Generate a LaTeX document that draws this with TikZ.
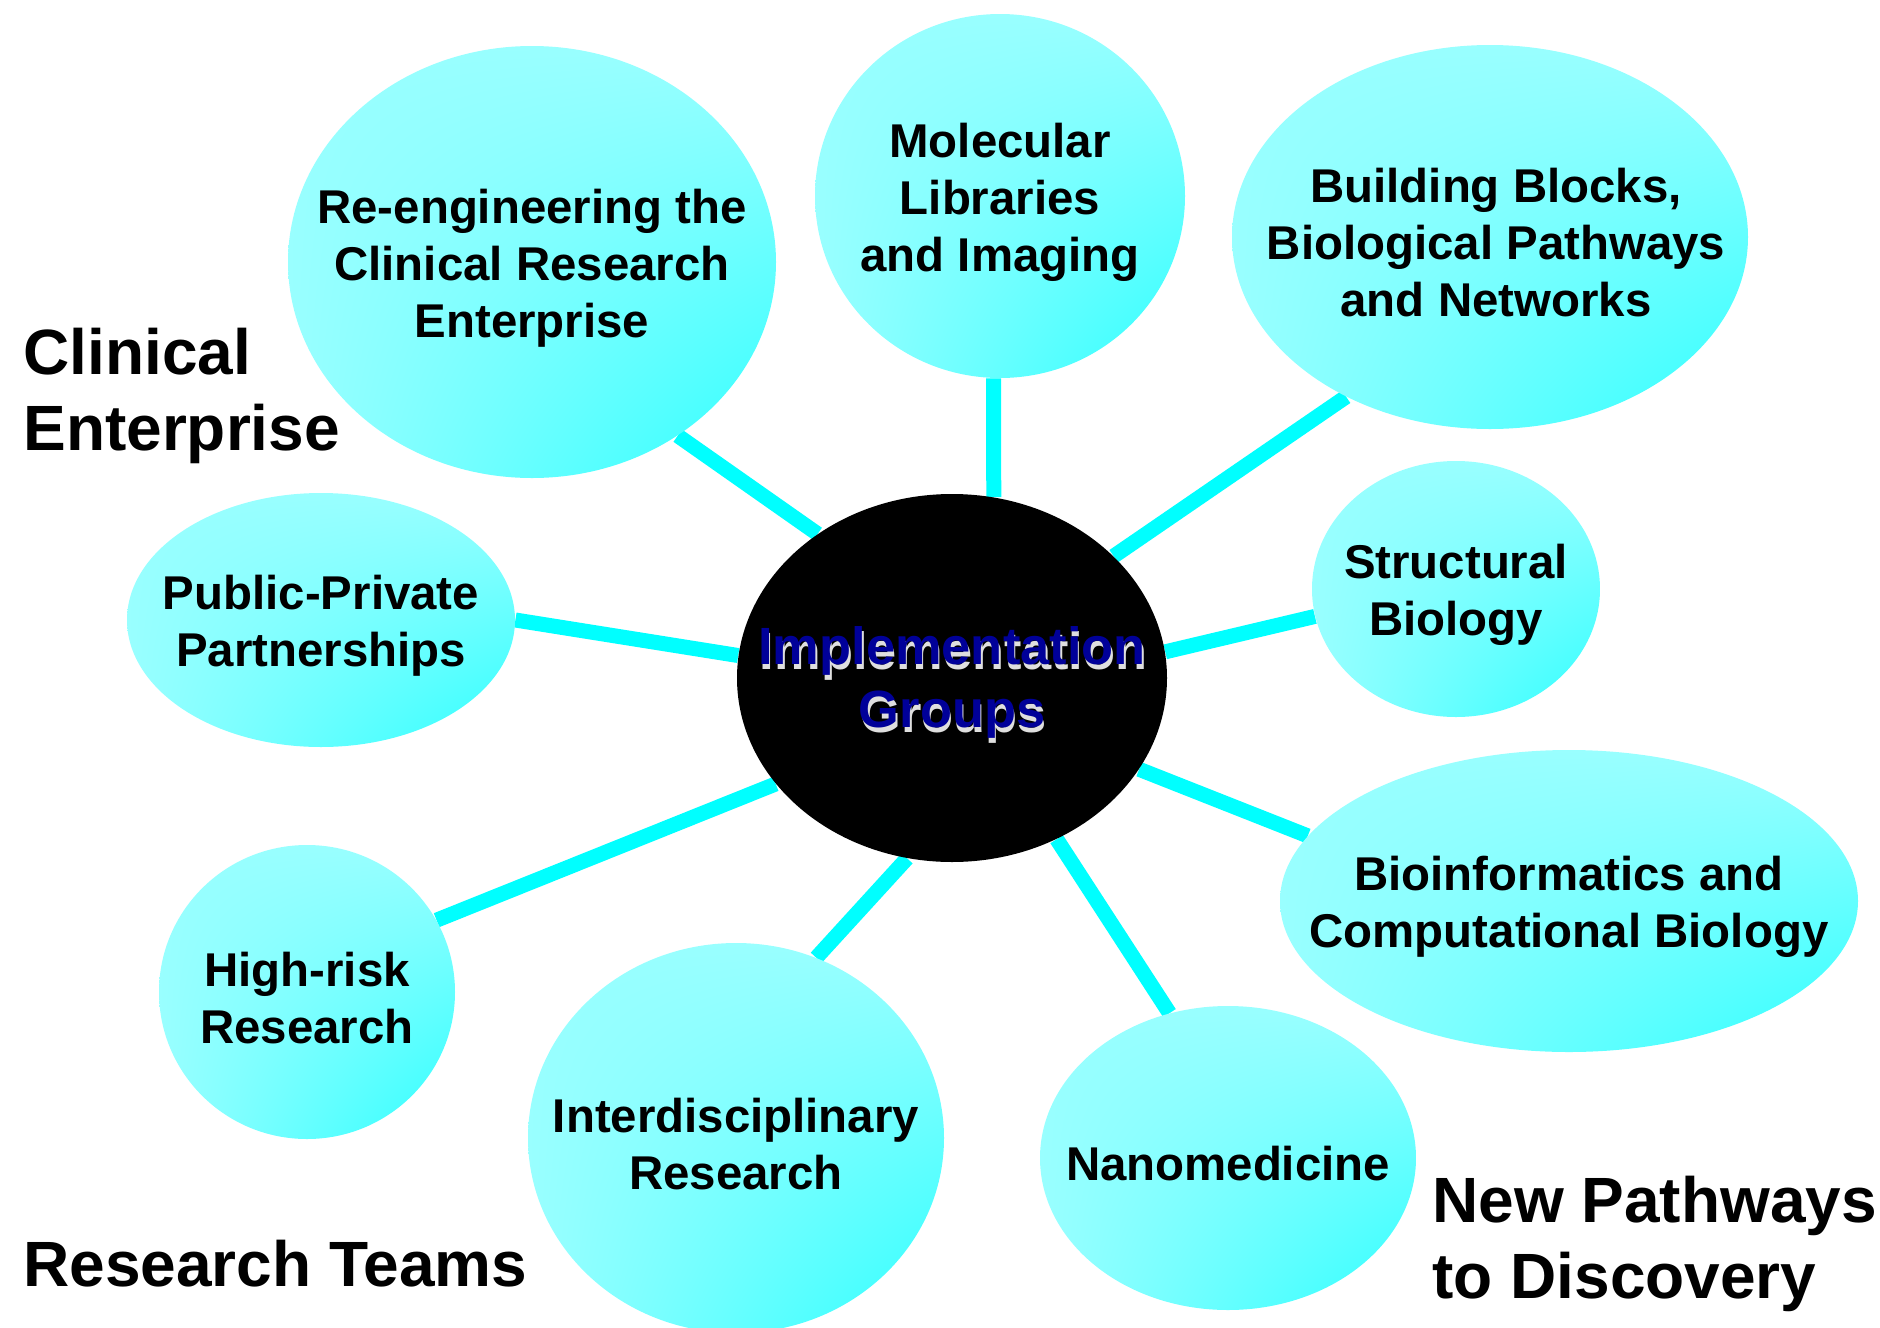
\documentclass[tikz,border=0pt]{standalone}
\usepackage{fontspec}
\setmainfont{Liberation Sans}
\usetikzlibrary{shapes.geometric, shadings, backgrounds}

\definecolor{bubblelight}{RGB}{153,255,255}
\definecolor{bubbledeep}{RGB}{45,255,255}
\definecolor{spokecyan}{RGB}{0,255,255}
\definecolor{hubblue}{RGB}{0,0,153}

\tikzset{
    bubble/.style={ellipse, inner sep=0pt, shade, upper left=bubblelight, upper right=bubblelight,
        lower left=bubblelight, lower right=bubbledeep},
    bubbletext/.style={font=\bfseries\fontsize{23.7}{28.5}\selectfont, align=center, yshift=-3pt},
    hub/.style={ellipse, inner sep=0pt, fill=black},
    hubtext/.style={font=\bfseries\fontsize{26.2}{31.5}\selectfont, align=center, text=hubblue, yshift=-2pt},
    hubshadow/.style={hubtext, text=gray!25, xshift=0.8pt, yshift=-2.8pt},
    spoke/.style={draw=spokecyan, line width=7.5pt},
    groupname/.style={font=\bfseries\fontsize{32}{38}\selectfont, align=left, anchor=base west, inner sep=0pt}
}

\begin{document}
\begin{tikzpicture}[x=0.5pt, y=-0.5pt]
    \useasboundingbox (0,0) rectangle (1880,1328);

    % centre
    \node[hub, minimum width=215pt, minimum height=184pt,
        label={[hubshadow]center:Implementation\\Groups},
        label={[hubtext]center:Implementation\\Groups}] (hub) at (952,678) {};

    % groups around it
    \node[bubble, minimum width=244pt, minimum height=216pt,
        label={[bubbletext]center:Re-engineering the\\Clinical Research\\Enterprise}] (reeng) at (532,262) {};
    \node[bubble, minimum width=185pt, minimum height=182pt,
        label={[bubbletext]center:Molecular\\Libraries\\and Imaging}] (mol) at (1000,196) {};
    \node[bubble, minimum width=258pt, minimum height=192pt,
        label={[bubbletext, xshift=3pt]center:Building Blocks,\\Biological Pathways\\and Networks}] (blocks) at (1490,237) {};
    \node[bubble, minimum width=144pt, minimum height=128pt,
        label={[bubbletext]center:Structural\\Biology}] (struct) at (1456,589) {};
    \node[bubble, minimum width=289pt, minimum height=151pt,
        label={[bubbletext]center:Bioinformatics and\\Computational Biology}] (bioinf) at (1569,901) {};
    \node[bubble, minimum width=188pt, minimum height=152pt,
        label={[bubbletext]center:Nanomedicine}] (nano) at (1228,1158) {};
    \node[bubble, minimum width=208pt, minimum height=195pt,
        label={[bubbletext]center:Interdisciplinary\\Research}] (inter) at (736,1138) {};
    \node[bubble, minimum width=148pt, minimum height=147pt,
        label={[bubbletext]center:High-risk\\Research}] (risk) at (307,992) {};
    \node[bubble, minimum width=194pt, minimum height=127pt,
        label={[bubbletext]center:Public-Private\\Partnerships}] (ppp) at (321,620) {};

    % spokes behind the bubbles
    \begin{scope}[on background layer]
        \draw[spoke] (hub.133) -- (reeng.310);
        \draw[spoke] (hub.77) -- (mol.268);
        \draw[spoke] (hub.37) -- (blocks.228);
        \draw[spoke] (hub.7) -- (struct.191);
        \draw[spoke] (hub.-26) -- (bioinf.166);
        \draw[spoke] (hub.-57) -- (nano.112);
        \draw[spoke] (hub.256) -- (inter.66);
        \draw[spoke] (hub.211) -- (risk.29);
        \draw[spoke] (hub.174) -- (ppp.0);
    \end{scope}

    % theme headings (base = last line)
    \node[groupname] (clinical) at (23,450) {Clinical\\Enterprise};
    \node[groupname] (teams) at (23,1286) {Research Teams};
    \node[groupname] (pathways) at (1432,1298) {New Pathways\\to Discovery};
\end{tikzpicture}
\end{document}
